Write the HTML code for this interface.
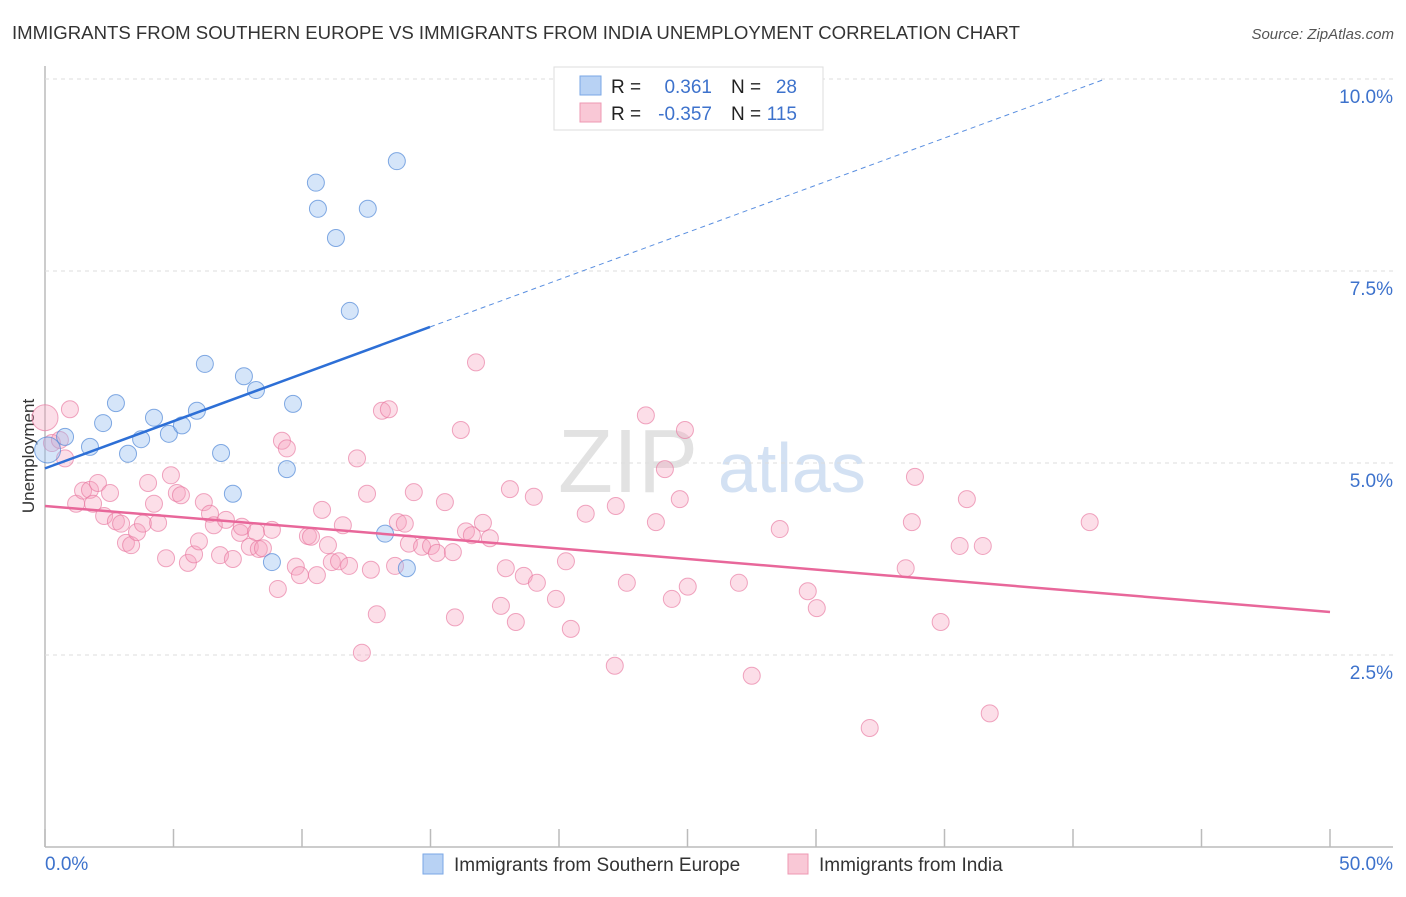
<!DOCTYPE html>
<html><head><meta charset="utf-8"><style>
body{margin:0;background:#fff;font-family:"Liberation Sans",sans-serif}
svg text{font-family:"Liberation Sans",sans-serif}
</style></head><body>
<svg id="c" width="1406" height="892">
<text x="12" y="39" font-size="18" fill="#333" textLength="1008" lengthAdjust="spacingAndGlyphs">IMMIGRANTS FROM SOUTHERN EUROPE VS IMMIGRANTS FROM INDIA UNEMPLOYMENT CORRELATION CHART</text>
<text x="1394" y="39" font-size="15" fill="#555" font-style="italic" text-anchor="end">Source: ZipAtlas.com</text>
<text transform="translate(34,456) rotate(-90)" font-size="17" fill="#333" text-anchor="middle">Unemployment</text>
<text x="558" y="492" font-size="90" fill="#e2e2e2" font-family="Liberation Serif">ZIP</text>
<text x="718" y="492" font-size="70" fill="#d3e1f3">atlas</text>
<g id="grid"></g><g id="marks"></g><g id="lines"></g>
<g>
<rect x="554" y="67" width="269" height="63" fill="#fff" stroke="#ddd"/>
<rect x="580" y="76" width="21" height="19" fill="#b8d2f4" stroke="#7aa7e6"/>
<rect x="580" y="103" width="21" height="19" fill="#f9c8d6" stroke="#ee98b3"/>
<text x="611" y="93" font-size="19" fill="#222">R =</text><text x="712" y="93" font-size="19" fill="#3d72cc" text-anchor="end">0.361</text>
<text x="731" y="93" font-size="19" fill="#222">N =</text><text x="797" y="93" font-size="19" fill="#3d72cc" text-anchor="end">28</text>
<text x="611" y="120" font-size="19" fill="#222">R =</text><text x="712" y="120" font-size="19" fill="#3d72cc" text-anchor="end">-0.357</text>
<text x="731" y="120" font-size="19" fill="#222">N =</text><text x="797" y="120" font-size="19" fill="#3d72cc" text-anchor="end">115</text>
</g>
<g>
<rect x="423" y="854" width="20" height="20" fill="#b8d2f4" stroke="#7aa7e6"/>
<text x="454" y="871" font-size="19" fill="#333">Immigrants from Southern Europe</text>
<rect x="788" y="854" width="20" height="20" fill="#f9c8d6" stroke="#ee98b3"/>
<text x="819" y="871" font-size="19" fill="#333">Immigrants from India</text>
</g>
</svg>
<script>
const xTicks=[0,5,10,15,20,25,30,35,40,45,50];
const yTicks=[2.5,5,7.5,10];
const yTickLabels=["2.5%","5.0%","7.5%","10.0%"];
const xEndLabels=["0.0%","50.0%"];
const blueX=[0.1,0.78,1.75,2.26,2.76,3.23,3.74,4.24,4.82,5.33,5.91,6.22,6.85,7.31,7.74,8.21,8.83,9.41,9.65,10.54,10.62,11.32,11.86,12.56,13.23,13.69,14.08];
const blueY=[5.17,5.34,5.21,5.52,5.78,5.12,5.31,5.59,5.38,5.49,5.68,6.29,5.13,4.60,6.13,5.95,3.71,4.92,5.77,8.65,8.31,7.93,6.98,8.31,4.08,8.93,3.63];
const pinkX=[0,0.27,0.58,0.78,0.97,1.21,1.48,1.75,1.87,2.06,2.30,2.53,2.76,2.96,3.15,3.35,3.58,3.81,4.01,4.24,4.40,4.71,4.90,5.13,5.29,5.56,5.80,5.99,6.18,6.42,6.57,6.81,7.04,7.31,7.59,7.66,7.97,8.21,8.32,8.48,8.83,9.06,9.22,9.41,9.76,9.92,10.23,10.35,10.58,10.78,11.01,11.16,11.44,11.59,11.83,12.14,12.33,12.53,12.68,12.91,13.11,13.38,13.62,13.73,14.00,14.16,14.35,14.67,15.02,15.25,15.56,15.87,15.95,16.18,16.38,16.61,16.77,17.04,17.31,17.74,17.93,18.09,18.32,18.63,19.02,19.14,19.88,20.27,20.46,21.04,22.17,22.21,22.64,23.38,23.77,24.12,24.39,24.70,24.90,25.01,27.00,27.50,28.59,29.68,30.03,32.09,33.49,33.73,33.85,34.85,35.59,35.87,36.49,36.76,40.65];
const pinkY=[5.59,5.26,5.30,5.06,5.70,4.47,4.64,4.65,4.47,4.74,4.31,4.61,4.24,4.21,3.96,3.93,4.10,4.21,4.74,4.47,4.22,3.76,4.84,4.61,4.58,3.70,3.81,3.98,4.49,4.34,4.19,3.80,4.26,3.75,4.09,4.17,3.91,4.10,3.88,3.89,4.13,3.36,5.29,5.19,3.65,3.54,4.05,4.04,3.54,4.39,3.93,3.71,3.72,4.19,3.66,5.06,2.53,4.60,3.61,3.03,5.68,5.70,3.66,4.23,4.21,3.95,4.62,3.91,3.92,3.83,4.49,3.84,2.99,5.43,4.11,4.06,6.31,4.22,4.02,3.14,3.63,4.66,2.93,3.53,4.56,3.44,3.23,3.72,2.84,4.34,2.36,4.44,3.44,5.62,4.23,4.92,3.23,4.53,5.43,3.39,3.44,2.23,4.14,3.33,3.11,1.55,3.63,4.23,4.82,2.93,3.92,4.53,3.92,1.74,4.23];
const blueTrend=[4.93,0.1229];   // intercept, slope
const pinkTrend=[4.44,-0.0276];
const sx=v=>45+v*25.7, sy=v=>847-v*76.8;
const NS="http://www.w3.org/2000/svg";
function mk(tag,attrs,parent){const e=document.createElementNS(NS,tag);for(const k in attrs)e.setAttribute(k,attrs[k]);parent.appendChild(e);return e;}
const grid=document.getElementById('grid'),marks=document.getElementById('marks'),lines=document.getElementById('lines');
let e=mk('line',{x1:45,y1:66,x2:45,y2:847,stroke:'#bbb','stroke-width':1.5},grid);


e=mk('line',{x1:45,y1:847,x2:1393,y2:847,stroke:'#bbb','stroke-width':1.5},grid);


yTicks.forEach((t,i)=>{
 const g=mk('line',{x1:45,x2:1393,y1:sy(t),y2:sy(t),stroke:'#ddd','stroke-dasharray':'4,4'},grid);
 
 
 const l=mk('text',{x:1393,y:sy(t)+24,'font-size':19,fill:'#3d72cc','text-anchor':'end'},grid);l.textContent=yTickLabels[i];
 
 
});
xTicks.forEach(t=>{
 const k=mk('line',{x1:sx(t),x2:sx(t),y1:829,y2:847,stroke:'#bbb','stroke-width':1.5},grid);
 
 
});
[[0,'start',45],[1,'end',1393]].forEach(([i,a,x])=>{
 const l=mk('text',{x:x,y:870,'font-size':19,fill:'#3d72cc','text-anchor':a},grid);l.textContent=xEndLabels[i];
 
 
});
pinkX.forEach((x,i)=>{
 const c=mk('circle',{cx:sx(x),cy:sy(pinkY[i]),r:i==0?13:8.5,fill:'rgba(245,160,190,0.35)',stroke:'rgba(232,120,160,0.65)','stroke-width':1},marks);
 
 
});
blueX.forEach((x,i)=>{
 const c=mk('circle',{cx:sx(x),cy:sy(blueY[i]),r:i==0?13:8.5,fill:'rgba(150,190,240,0.4)',stroke:'rgba(80,135,215,0.7)','stroke-width':1},marks);
 
 
});
const bf=x=>blueTrend[0]+blueTrend[1]*x, pf=x=>pinkTrend[0]+pinkTrend[1]*x;
e=mk('line',{x1:sx(0),y1:sy(bf(0)),x2:sx(14.98),y2:sy(bf(14.98)),stroke:'#2d6fd6','stroke-width':2.5},lines);


const xe=(10-blueTrend[0])/blueTrend[1];
e=mk('line',{x1:sx(14.98),y1:sy(bf(14.98)),x2:sx(xe),y2:sy(10),stroke:'#5a8fe0','stroke-width':1,'stroke-dasharray':'5,4'},lines);


e=mk('line',{x1:sx(0),y1:sy(pf(0)),x2:sx(50),y2:sy(pf(50)),stroke:'#e8679a','stroke-width':2.5},lines);


</script>
</body></html>
